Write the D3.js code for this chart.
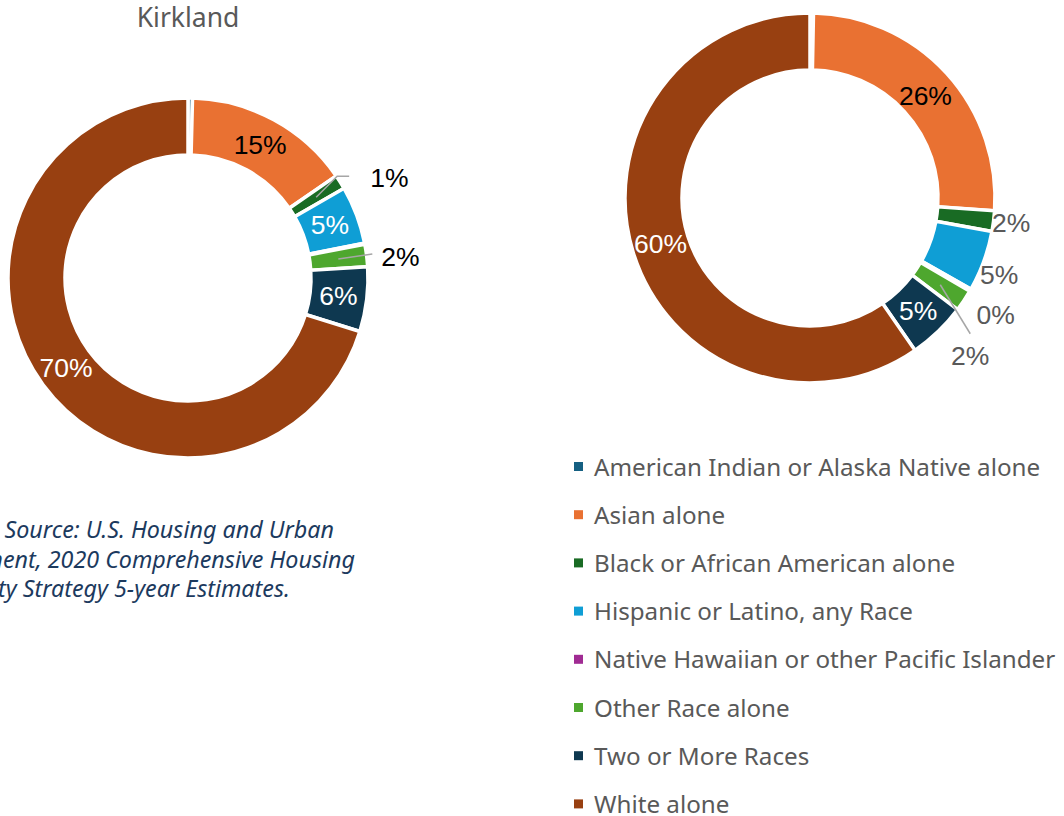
<!DOCTYPE html>
<html>
<head>
<meta charset="utf-8">
<script src="https://cdn.jsdelivr.net/npm/d3@7"></script>
<style>
  body { margin: 0; background: #fff; }
  svg { display: block; }
</style>
</head>
<body>
<script>
// categories (clockwise from 12 o'clock)
var categories = [
  "American Indian or Alaska Native alone",
  "Asian alone",
  "Black or African American alone",
  "Hispanic or Latino, any Race",
  "Native Hawaiian or other Pacific Islander",
  "Other Race alone",
  "Two or More Races",
  "White alone"
];
var colors = ["#156082", "#e97132", "#196b24", "#0f9ed5", "#a02b93", "#4ea72e", "#0e3850", "#984011"];

// percentages
var kirklandValues = [0.4, 15.0, 1.3, 5.2, 0.1, 2.0, 5.8, 70.2];
var kirklandLabels = ["", "15%", "1%", "5%", "", "2%", "6%", "70%"];
var rightValues = [0.3, 25.8, 1.8, 5.3, 0.2, 1.9, 5.1, 59.6];
var rightLabels = ["", "26%", "2%", "5%", "0%", "2%", "5%", "60%"];

var sourceLines = [
  "Data Source: U.S. Housing and Urban",
  "Development, 2020 Comprehensive Housing",
  "Affordability Strategy 5-year Estimates."
];

var W = 1064, H = 816;
var svg = d3.select("body").append("svg").attr("width", W).attr("height", H);

var labelFont = "'Liberation Sans', Arial, sans-serif";
var textFont = "'Noto Sans', 'Open Sans', sans-serif";

// label placement: inside (at centroid) or outside with offsets and optional leader line
var kirklandPlace = [
  null,
  {fill: "#000"},
  {fill: "#000", dx: 54, dy: -19, leader: [[21, -21], [33, -21]], anchor: "start"},
  {fill: "#fff"},
  null,
  {fill: "#000", dx: 43, dy: -2, leader: [[34, -5]], anchor: "start"},
  {fill: "#fff"},
  {fill: "#fff"}
];
var rightPlace = [
  null,
  {fill: "#000", dy: 4},
  {fill: "#595959", dx: 46, dy: 5},
  {fill: "#595959", dx: 42, dy: 24},
  {fill: "#595959", dx: 50, dy: 39},
  {fill: "#595959", dx: 30, dy: 71, leader: [[30, 49]]},
  {fill: "#fff"},
  {fill: "#fff"}
];

function drawDonut(cx, cy, rOut, rIn, values, labels, place) {
  var g = svg.append("g").attr("transform", "translate(" + cx + "," + cy + ")");

  var pie = d3.pie().sort(null).value(function(d) { return d; });
  var arcs = pie(values);
  var arc = d3.arc().innerRadius(rIn).outerRadius(rOut);

  g.selectAll("path.slice")
    .data(arcs)
    .enter().append("path")
    .attr("class", "slice")
    .attr("d", arc)
    .attr("fill", function(d, i) { return colors[i]; })
    .attr("stroke", "#fff")
    .attr("stroke-width", 3.5);

  arcs.forEach(function(d, i) {
    var p = place[i];
    if (!p || !labels[i]) return;
    var c = arc.centroid(d);
    if (p.leader) {
      var pts = [c].concat(p.leader.map(function(o) { return [c[0] + o[0], c[1] + o[1]]; }));
      g.append("path")
        .attr("d", d3.line()(pts))
        .attr("fill", "none")
        .attr("stroke", "#a6a6a6")
        .attr("stroke-width", 1.5);
    }
    g.append("text")
      .attr("x", c[0] + (p.dx || 0))
      .attr("y", c[1] + (p.dy || 0))
      .attr("text-anchor", p.anchor === "start" ? "start" : "middle")
      .attr("dominant-baseline", "central")
      .attr("font-family", labelFont)
      .attr("font-size", 26.5)
      .attr("fill", p.fill)
      .text(labels[i]);
  });
}

// title
svg.append("text")
  .attr("x", 188).attr("y", 27)
  .attr("text-anchor", "middle")
  .attr("font-family", textFont)
  .attr("font-size", 26.5)
  .attr("fill", "#595959")
  .text("Kirkland");

drawDonut(188, 278, 180, 123, kirklandValues, kirklandLabels, kirklandPlace);
drawDonut(810, 198, 185, 128, rightValues, rightLabels, rightPlace);

// source note, right ends as in the picture (left part runs off the page there)
var sourceEnds = [334, 355, 290];
svg.selectAll("text.source")
  .data(sourceLines)
  .enter().append("text")
  .attr("class", "source")
  .attr("x", function(d, i) { return sourceEnds[i]; })
  .attr("y", function(d, i) { return 538 + i * 29.5; })
  .attr("text-anchor", "end")
  .attr("font-family", textFont)
  .attr("font-style", "italic")
  .attr("font-size", 23.3)
  .attr("fill", "#1c3a5e")
  .text(function(d) { return d; });

// legend
var legend = svg.append("g").attr("transform", "translate(574,466)");
var rows = legend.selectAll("g")
  .data(categories)
  .enter().append("g")
  .attr("transform", function(d, i) { return "translate(0," + (i * 48.2) + ")"; });
rows.append("rect")
  .attr("x", 0).attr("y", -4)
  .attr("width", 9).attr("height", 9)
  .attr("fill", function(d, i) { return colors[i]; });
rows.append("text")
  .attr("x", 20).attr("y", 0)
  .attr("dominant-baseline", "central")
  .attr("font-family", textFont)
  .attr("font-size", 24.2)
  .attr("fill", "#595959")
  .text(function(d) { return d; });
</script>
</body>
</html>
